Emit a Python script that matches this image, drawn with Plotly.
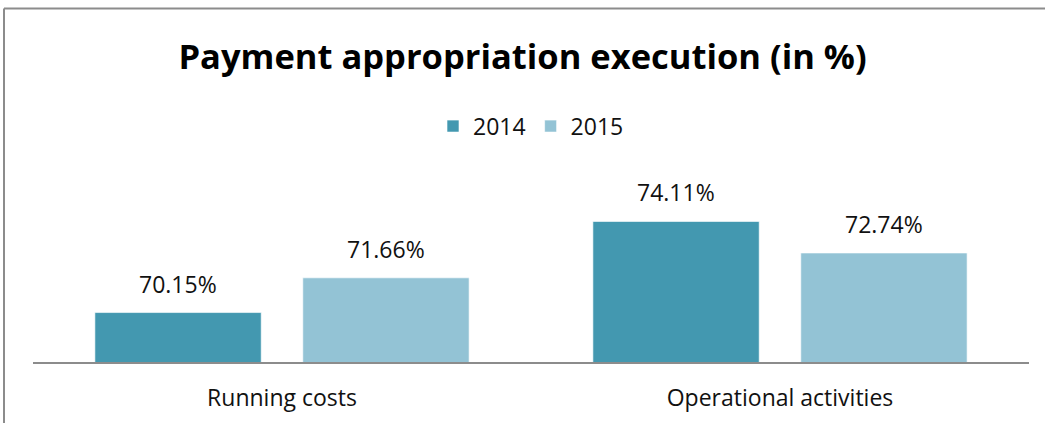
import plotly.graph_objects as go

# Chart data
categories = ["Running costs", "Operational activities"]
years = ["2014", "2015"]
values_2014 = [70.15, 74.11]
values_2015 = [71.66, 72.74]

colors = {"2014": "#4398B0", "2015": "#93C3D5"}
font_family = "Open Sans, Lato, sans-serif"
label_size = 23

BARGAP = 0.165
BARGROUPGAP = 0.20

fig = go.Figure()
series = [values_2014, values_2015]
for year, vals in zip(years, series):
    fig.add_trace(go.Bar(
        name=year,
        x=categories,
        y=vals,
        marker=dict(color=colors[year], line=dict(color="rgba(255,255,255,0.6)", width=1)),
        cliponaxis=False,
    ))

# value labels above each bar, offset to the centre of its slot in the group
slot = (1 - BARGAP) / len(years)
annotations = []
for j, vals in enumerate(series):
    offset = (j - (len(years) - 1) / 2) * slot
    for i, v in enumerate(vals):
        annotations.append(dict(
            x=i + offset, y=v, xref="x", yref="y",
            text=f"{v:.2f}%", showarrow=False,
            yanchor="bottom", yshift=11,
            font=dict(size=label_size, color="#111111", family=font_family),
        ))

# plot area geometry (pixels) used to place the outer frame
W, H = 1045, 423
ml, mr, mt, mb = 33, 16, 178, 60.5
pw, ph = W - ml - mr, H - mt - mb

def px_to_paper_x(px):
    return (px - ml) / pw

def px_to_paper_y(py):
    return (H - mb - py) / ph

fig.update_layout(
    width=W, height=H,
    margin=dict(l=ml, r=mr, t=mt, b=mb, pad=0),
    paper_bgcolor="white",
    plot_bgcolor="white",
    barmode="group",
    bargap=BARGAP,
    bargroupgap=BARGROUPGAP,
    title=dict(
        text="<b>Payment appropriation execution (in %)</b>",
        x=0.5, xanchor="center",
        y=1 - 57 / H, yanchor="middle",
        font=dict(size=34.5, color="#000000", family=font_family),
    ),
    legend=dict(
        orientation="h",
        x=0.5, xanchor="center",
        y=px_to_paper_y(126), yanchor="middle",
        font=dict(size=label_size, color="#111111", family=font_family),
        itemwidth=30,
        traceorder="normal",
    ),
    showlegend=True,
    annotations=annotations,
    xaxis=dict(
        showline=True, linecolor="#8C8C8C", linewidth=2,
        showgrid=False, zeroline=False,
        ticks="", ticklabelstandoff=14,
        automargin=False,
        tickfont=dict(size=label_size, color="#111111", family=font_family),
    ),
    yaxis=dict(
        range=[68, 76],
        visible=False,
        showgrid=False, zeroline=False,
        automargin=False,
    ),
    shapes=[
        # outer frame: left and top edges
        dict(type="line", xref="paper", yref="paper",
             x0=px_to_paper_x(4), x1=px_to_paper_x(4),
             y0=px_to_paper_y(8), y1=px_to_paper_y(430),
             line=dict(color="#8C8C8C", width=2)),
        dict(type="line", xref="paper", yref="paper",
             x0=px_to_paper_x(4), x1=px_to_paper_x(1050),
             y0=px_to_paper_y(8), y1=px_to_paper_y(8),
             line=dict(color="#8C8C8C", width=2)),
    ],
)

fig.write_html("out.html")
